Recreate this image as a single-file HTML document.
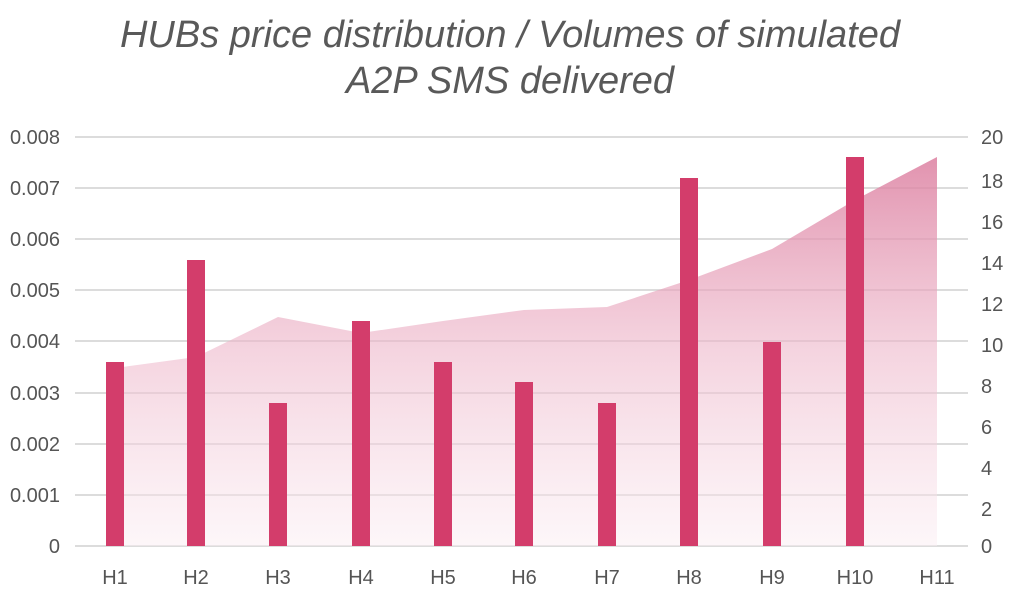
<!DOCTYPE html>
<html><head><style>
body{margin:0;background:#fff;}
svg{display:block;font-family:"Liberation Sans",sans-serif;}
</style></head><body>
<svg width="1024" height="599" viewBox="0 0 1024 599">
<defs>
<linearGradient id="g" x1="0" y1="157" x2="0" y2="546" gradientUnits="userSpaceOnUse">
<stop offset="0" stop-color="#dc7fa0" stop-opacity="0.85"/>
<stop offset="0.5" stop-color="#eeb8cb" stop-opacity="0.6"/>
<stop offset="1" stop-color="#fbeef3" stop-opacity="0.5"/>
</linearGradient>
</defs>
<text x="510" y="47" font-size="38" font-style="italic" fill="#595959" text-anchor="middle">HUBs price distribution / Volumes of simulated</text>
<text x="510" y="93" font-size="38" font-style="italic" fill="#595959" text-anchor="middle">A2P SMS delivered</text>
<g stroke="#d0d0d0" stroke-width="1.5">
<line x1="75" x2="968" y1="137" y2="137"/><line x1="75" x2="968" y1="188" y2="188"/>
<line x1="75" x2="968" y1="239" y2="239"/><line x1="75" x2="968" y1="290" y2="290"/>
<line x1="75" x2="968" y1="341" y2="341"/><line x1="75" x2="968" y1="393" y2="393"/>
<line x1="75" x2="968" y1="444" y2="444"/><line x1="75" x2="968" y1="495" y2="495"/>
<line x1="75" x2="968" y1="546" y2="546"/>
</g>
<polygon fill="url(#g)" points="115,368 196,357 278,317 361,333 443,321 524,310 607,307 689,280 772,249 855,200 937,157 937,546 115,546"/>
<g fill="#d33d6b">
<rect x="106" y="362" width="18" height="184"/>
<rect x="187" y="260" width="18" height="286"/>
<rect x="269" y="403" width="18" height="143"/>
<rect x="352" y="321" width="18" height="225"/>
<rect x="434" y="362" width="18" height="184"/>
<rect x="515" y="382" width="18" height="164"/>
<rect x="598" y="403" width="18" height="143"/>
<rect x="680" y="178" width="18" height="368"/>
<rect x="763" y="342" width="18" height="204"/>
<rect x="846" y="157" width="18" height="389"/>
</g>
<g font-size="20" fill="#555" text-anchor="end">
<text x="60" y="144">0.008</text><text x="60" y="195">0.007</text><text x="60" y="246">0.006</text>
<text x="60" y="297">0.005</text><text x="60" y="348">0.004</text><text x="60" y="400">0.003</text>
<text x="60" y="451">0.002</text><text x="60" y="502">0.001</text><text x="60" y="553">0</text>
</g>
<g font-size="20" fill="#555" text-anchor="start">
<text x="981" y="144">20</text><text x="981" y="188">18</text><text x="981" y="229">16</text>
<text x="981" y="270">14</text><text x="981" y="311">12</text><text x="981" y="352">10</text>
<text x="981" y="393">8</text><text x="981" y="434">6</text><text x="981" y="475">4</text>
<text x="981" y="516">2</text><text x="981" y="553">0</text>
</g>
<g font-size="20" fill="#555" text-anchor="middle">
<text x="115" y="584">H1</text><text x="196" y="584">H2</text><text x="278" y="584">H3</text>
<text x="361" y="584">H4</text><text x="443" y="584">H5</text><text x="524" y="584">H6</text>
<text x="607" y="584">H7</text><text x="689" y="584">H8</text><text x="772" y="584">H9</text>
<text x="855" y="584">H10</text><text x="937" y="584">H11</text>
</g>
</svg>
</body></html>
